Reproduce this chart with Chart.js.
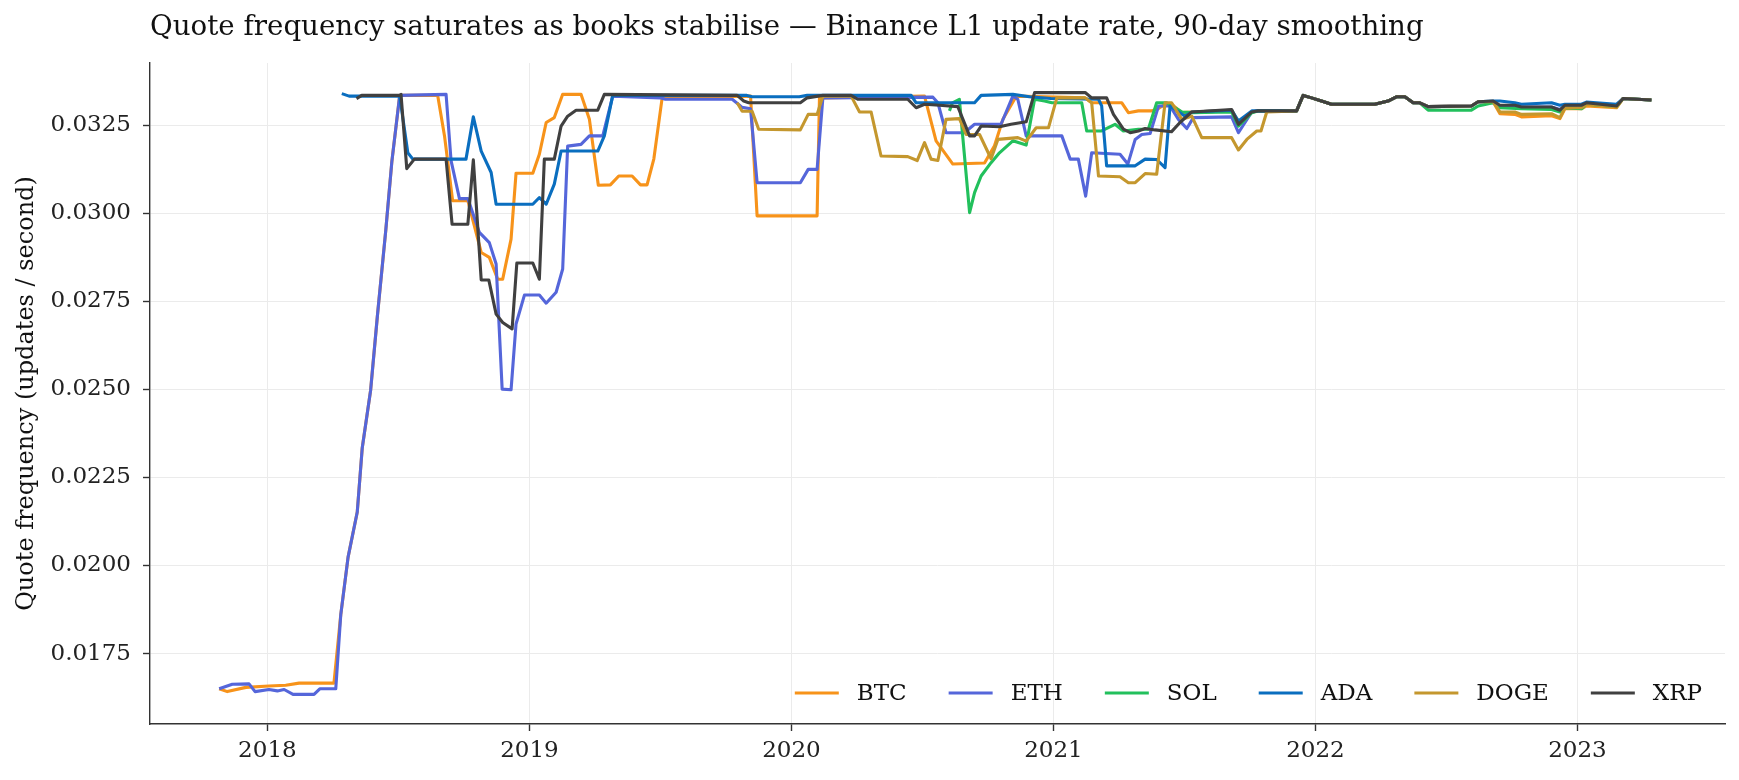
<!DOCTYPE html>
<html>
<head>
<meta charset="utf-8">
<title>Quote frequency</title>
<script src="https://cdn.jsdelivr.net/npm/chart.js@4"></script>
<style>
  body { margin: 0; background: #fff; }
  #wrap { width: 1739px; height: 780px; }
</style>
</head>
<body>
<div id="wrap"><canvas id="quoteChart"></canvas></div>
<script>
// values: [decimal year, updates / second]
const TITLE = 'Quote frequency saturates as books stabilise \u2014 Binance L1 update rate, 90-day smoothing';
const Y_TITLE = 'Quote frequency (updates / second)';
const YEAR_TICKS = [2018, 2019, 2020, 2021, 2022, 2023];
const VALUE_TICKS = [0.0175, 0.0200, 0.0225, 0.0250, 0.0275, 0.0300, 0.0325];
const NAMES = ['BTC', 'ETH', 'SOL', 'ADA', 'DOGE', 'XRP'];
const COLORS = ['#F7931A', '#5566DA', '#22C05C', '#0A6EBF', '#C4972E', '#404040'];

// stretch where every coin sits on the same line
const SHARED_2022 = [[2021.953,0.03335],[2021.985,0.03328],[2022.023,0.03319],[2022.061,0.03310],[2022.226,0.03310],
  [2022.277,0.03319],[2022.309,0.03331],[2022.341,0.03331],[2022.373,0.03314],[2022.398,0.03314],
  [2022.430,0.03303],[2022.595,0.03305],[2022.621,0.03317]];

const BTC = [[2017.816,0.01650],[2017.847,0.01642],[2017.918,0.01654],[2018.006,0.01658],[2018.070,0.01660],[2018.121,0.01666],[2018.254,0.01666],
  [2018.280,0.01860],[2018.308,0.02024],[2018.343,0.02152],[2018.362,0.02334],[2018.394,0.02498],[2018.420,0.02710],[2018.452,0.02953],[2018.475,0.03147],[2018.505,0.03335],
  [2018.650,0.03335],[2018.676,0.03220],[2018.707,0.03036],[2018.765,0.03036],[2018.816,0.02889],[2018.847,0.02875],[2018.879,0.02813],[2018.898,0.02813],
  [2018.930,0.02927],[2018.949,0.03114],[2019.013,0.03114],[2019.038,0.03168],[2019.064,0.03258],[2019.095,0.03272],[2019.127,0.03338],[2019.197,0.03338],
  [2019.229,0.03267],[2019.263,0.03080],[2019.309,0.03081],[2019.341,0.03106],[2019.392,0.03106],[2019.424,0.03081],[2019.449,0.03081],[2019.475,0.03155],
  [2019.507,0.03330],[2019.844,0.03333],[2019.869,0.02993],[2020.098,0.02993],[2020.107,0.03328],[2020.508,0.03333],[2020.552,0.03206],[2020.616,0.03140],
  [2020.737,0.03143],[2020.775,0.03192],[2020.807,0.03267],[2020.858,0.03333],[2021.120,0.03328],[2021.146,0.03314],[2021.261,0.03314],[2021.286,0.03286],
  [2021.324,0.03291],[2021.375,0.03291],[2021.401,0.03298],[2021.426,0.03310],[2021.451,0.03310],[2021.490,0.03286],[2021.528,0.03288],[2021.680,0.03293],
  [2021.706,0.03260],[2021.757,0.03288],[2021.781,0.03291],[2021.928,0.03291], ...SHARED_2022,
  [2022.678,0.03317],[2022.704,0.03283],[2022.761,0.03281],[2022.786,0.03274],[2022.901,0.03277],[2022.933,0.03269],[2022.952,0.03297],[2023.015,0.03297],
  [2023.034,0.03305],[2023.149,0.03300],[2023.174,0.03326],[2023.282,0.03322]];

const ETH = [[2017.816,0.01650],[2017.866,0.01663],[2017.930,0.01664],[2017.953,0.01642],[2018.006,0.01648],[2018.038,0.01644],[2018.064,0.01648],[2018.098,0.01634],
  [2018.178,0.01634],[2018.200,0.01650],[2018.261,0.01650],
  [2018.280,0.01860],[2018.308,0.02024],[2018.343,0.02152],[2018.362,0.02334],[2018.394,0.02498],[2018.420,0.02710],[2018.452,0.02953],[2018.475,0.03147],[2018.505,0.03335],
  [2018.682,0.03338],[2018.701,0.03150],[2018.733,0.03042],[2018.765,0.03042],[2018.809,0.02946],[2018.847,0.02917],[2018.873,0.02856],[2018.896,0.02501],
  [2018.930,0.02499],[2018.949,0.02686],[2018.981,0.02768],[2019.038,0.02768],[2019.064,0.02745],[2019.102,0.02776],[2019.127,0.02842],[2019.146,0.03191],
  [2019.197,0.03196],[2019.229,0.03220],[2019.280,0.03220],[2019.318,0.03333],[2019.500,0.03328],[2019.519,0.03324],[2019.774,0.03324],[2019.812,0.03301],
  [2019.844,0.03297],[2019.869,0.03087],[2020.034,0.03087],[2020.064,0.03125],[2020.098,0.03125],[2020.120,0.03328],[2020.540,0.03330],[2020.559,0.03314],
  [2020.590,0.03229],[2020.660,0.03229],[2020.699,0.03253],[2020.800,0.03253],[2020.845,0.03333],[2020.864,0.03324],[2020.896,0.03220],[2021.032,0.03220],
  [2021.064,0.03154],[2021.095,0.03154],[2021.123,0.03049],[2021.146,0.03172],[2021.254,0.03168],[2021.284,0.03140],[2021.312,0.03210],[2021.337,0.03224],
  [2021.369,0.03227],[2021.401,0.03305],[2021.445,0.03305],[2021.477,0.03267],[2021.509,0.03241],[2021.534,0.03272],[2021.680,0.03274],[2021.706,0.03229],
  [2021.757,0.03288],[2021.781,0.03291],[2021.928,0.03291], ...SHARED_2022,
  [2022.678,0.03314],[2022.704,0.03305],[2022.761,0.03305],[2022.786,0.03302],[2022.901,0.03302],[2022.933,0.03295],[2022.952,0.03305],[2023.015,0.03305],
  [2023.034,0.03314],[2023.149,0.03305],[2023.174,0.03326],[2023.282,0.03322]];

const SOL = [[2020.603,0.03291],[2020.615,0.03314],[2020.641,0.03324],[2020.680,0.03002],[2020.699,0.03059],[2020.724,0.03106],[2020.762,0.03144],[2020.794,0.03172],
  [2020.845,0.03206],[2020.896,0.03194],[2020.928,0.03324],[2020.966,0.03319],[2020.994,0.03314],[2021.108,0.03314],[2021.127,0.03234],[2021.184,0.03234],
  [2021.235,0.03253],[2021.267,0.03234],[2021.324,0.03239],[2021.362,0.03239],[2021.394,0.03314],[2021.432,0.03314],[2021.490,0.03288],[2021.528,0.03286],
  [2021.680,0.03288],[2021.706,0.03248],[2021.757,0.03286],[2021.781,0.03291],[2021.928,0.03291],
  [2021.953,0.03335],[2021.985,0.03328],[2022.023,0.03319],[2022.061,0.03310],[2022.226,0.03310],[2022.277,0.03319],[2022.309,0.03331],[2022.341,0.03331],
  [2022.373,0.03314],[2022.398,0.03314],[2022.430,0.03293],[2022.595,0.03293],[2022.621,0.03305],
  [2022.678,0.03314],[2022.704,0.03300],[2022.786,0.03297],[2022.901,0.03295],[2022.933,0.03288],[2022.952,0.03300],[2023.015,0.03297],
  [2023.034,0.03310],[2023.149,0.03303],[2023.174,0.03326],[2023.282,0.03322]];

const ADA = [[2018.284,0.03340],[2018.312,0.03333],[2018.505,0.03333],[2018.536,0.03172],[2018.555,0.03154],[2018.758,0.03154],[2018.786,0.03274],[2018.816,0.03177],
  [2018.854,0.03116],[2018.873,0.03026],[2019.013,0.03026],[2019.038,0.03045],[2019.064,0.03026],[2019.095,0.03083],[2019.121,0.03177],[2019.261,0.03177],
  [2019.286,0.03220],[2019.318,0.03335],[2019.830,0.03335],[2019.850,0.03331],[2020.030,0.03331],[2020.060,0.03335],[2020.457,0.03335],[2020.476,0.03314],
  [2020.699,0.03314],[2020.724,0.03335],[2020.845,0.03338],[2020.909,0.03331],[2020.990,0.03326],[2021.172,0.03324],[2021.184,0.03305],[2021.203,0.03135],
  [2021.312,0.03135],[2021.350,0.03154],[2021.394,0.03153],[2021.426,0.03130],[2021.445,0.03305],[2021.502,0.03276],[2021.528,0.03288],[2021.680,0.03293],
  [2021.706,0.03262],[2021.757,0.03291],[2021.781,0.03291],[2021.928,0.03291], ...SHARED_2022,
  [2022.678,0.03319],[2022.704,0.03319],[2022.761,0.03314],[2022.786,0.03310],[2022.901,0.03314],[2022.933,0.03307],[2022.952,0.03310],[2023.015,0.03310],
  [2023.034,0.03316],[2023.149,0.03310],[2023.174,0.03326],[2023.282,0.03322]];

const DOGE = [[2019.793,0.03314],[2019.812,0.03290],[2019.850,0.03290],[2019.875,0.03239],[2020.034,0.03237],[2020.064,0.03281],[2020.098,0.03281],[2020.120,0.03333],
  [2020.228,0.03333],[2020.260,0.03288],[2020.304,0.03288],[2020.342,0.03163],[2020.444,0.03161],[2020.480,0.03150],[2020.508,0.03201],[2020.533,0.03154],
  [2020.559,0.03150],[2020.590,0.03267],[2020.641,0.03269],[2020.667,0.03224],[2020.718,0.03224],[2020.762,0.03155],[2020.788,0.03210],[2020.864,0.03215],
  [2020.896,0.03205],[2020.934,0.03243],[2020.981,0.03243],[2021.013,0.03328],[2021.121,0.03328],[2021.146,0.03314],[2021.172,0.03106],[2021.254,0.03104],
  [2021.286,0.03087],[2021.312,0.03087],[2021.350,0.03113],[2021.394,0.03111],[2021.426,0.03314],[2021.451,0.03314],[2021.490,0.03267],[2021.528,0.03276],
  [2021.566,0.03215],[2021.680,0.03215],[2021.706,0.03180],[2021.738,0.03210],[2021.776,0.03234],[2021.792,0.03234],[2021.814,0.03288],[2021.928,0.03291],
  ...SHARED_2022,
  [2022.678,0.03317],[2022.704,0.03288],[2022.761,0.03288],[2022.786,0.03281],[2022.901,0.03283],[2022.933,0.03272],[2022.952,0.03300],[2023.015,0.03300],
  [2023.034,0.03310],[2023.149,0.03303],[2023.174,0.03326],[2023.282,0.03322]];

const XRP = [[2018.340,0.03326],[2018.360,0.03335],[2018.505,0.03335],[2018.510,0.03338],[2018.532,0.03127],[2018.561,0.03154],[2018.682,0.03154],[2018.705,0.02969],
  [2018.765,0.02969],[2018.786,0.03152],[2018.816,0.02811],[2018.845,0.02811],[2018.873,0.02714],[2018.898,0.02690],[2018.934,0.02672],[2018.952,0.02859],
  [2019.013,0.02859],[2019.038,0.02813],[2019.057,0.03154],[2019.095,0.03154],[2019.121,0.03248],[2019.146,0.03276],[2019.178,0.03293],[2019.261,0.03293],
  [2019.286,0.03338],[2019.793,0.03335],[2019.818,0.03319],[2019.837,0.03314],[2020.034,0.03314],[2020.060,0.03328],[2020.120,0.03335],[2020.228,0.03335],
  [2020.253,0.03324],[2020.444,0.03324],[2020.476,0.03300],[2020.508,0.03310],[2020.565,0.03307],[2020.635,0.03303],[2020.680,0.03220],[2020.699,0.03220],
  [2020.724,0.03248],[2020.794,0.03246],[2020.838,0.03253],[2020.896,0.03260],[2020.928,0.03343],[2021.121,0.03343],[2021.146,0.03328],[2021.203,0.03328],
  [2021.229,0.03281],[2021.267,0.03239],[2021.293,0.03229],[2021.324,0.03234],[2021.350,0.03241],[2021.388,0.03237],[2021.451,0.03232],[2021.483,0.03258],
  [2021.528,0.03288],[2021.680,0.03295],[2021.706,0.03253],[2021.757,0.03288],[2021.781,0.03291],[2021.928,0.03291], ...SHARED_2022,
  [2022.678,0.03319],[2022.704,0.03307],[2022.761,0.03307],[2022.786,0.03302],[2022.901,0.03302],[2022.933,0.03293],[2022.952,0.03307],[2023.015,0.03307],
  [2023.034,0.03314],[2023.149,0.03305],[2023.174,0.03326],[2023.282,0.03322]];

const SERIES = [BTC, ETH, SOL, ADA, DOGE, XRP];
const FONT = "'DejaVu Serif', serif";

Chart.defaults.font.family = FONT;
Chart.defaults.color = '#222';

// title sits flush with the plot's left edge
const titlePlugin = {
  id: 'leftTitle',
  afterDraw(chart) {
    const c = chart.ctx;
    c.save();
    c.font = '27.7px ' + FONT;
    c.fillStyle = '#111';
    c.textAlign = 'left';
    c.textBaseline = 'middle';
    c.fillText(TITLE, chart.chartArea.left, 28);
    c.restore();
  }
};

// one-row legend inside the plot, bottom right, no frame
const legendPlugin = {
  id: 'innerLegend',
  afterDatasetsDraw(chart) {
    const c = chart.ctx, area = chart.chartArea;
    const lineLen = 44, gap = 18, spacing = 42;
    c.save();
    c.font = '23px ' + FONT;
    const items = chart.data.datasets.map(ds => ({ label: ds.label, color: ds.borderColor, w: c.measureText(ds.label).width }));
    const total = items.reduce((s, it) => s + lineLen + gap + it.w, 0) + spacing * (items.length - 1);
    let x = area.right - 23 - total;
    const y = area.bottom - 31;
    c.textBaseline = 'middle';
    c.textAlign = 'left';
    items.forEach(it => {
      c.strokeStyle = it.color;
      c.lineWidth = 3.2;
      c.beginPath();
      c.moveTo(x, y);
      c.lineTo(x + lineLen, y);
      c.stroke();
      c.fillStyle = '#111';
      c.fillText(it.label, x + lineLen + gap, y + 1);
      x += lineLen + gap + it.w + spacing;
    });
    c.restore();
  }
};

new Chart(document.getElementById('quoteChart'), {
  type: 'line',
  data: {
    datasets: SERIES.map((pts, i) => ({
      label: NAMES[i],
      data: pts.map(p => ({ x: p[0], y: p[1] })),
      borderColor: COLORS[i],
      backgroundColor: COLORS[i],
      borderWidth: 3.1,
      borderJoinStyle: 'round',
      pointRadius: 0,
      tension: 0,
      fill: false,
      order: SERIES.length - i
    }))
  },
  options: {
    responsive: true,
    maintainAspectRatio: false,
    animation: false,
    layout: { padding: { top: 63, right: 14, bottom: 0, left: 0 } },
    plugins: {
      legend: { display: false },
      title: { display: false },
      tooltip: { enabled: false }
    },
    scales: {
      x: {
        type: 'linear',
        min: 2017.552,
        max: 2023.563,
        afterBuildTicks: scale => { scale.ticks = YEAR_TICKS.map(v => ({ value: v })); },
        afterFit: scale => { scale.height = 56; },
        ticks: {
          autoSkip: false,
          maxRotation: 0,
          padding: 6,
          font: { size: 23 },
          color: '#222',
          callback: v => String(v)
        },
        grid: { color: '#ebebeb', lineWidth: 1, tickLength: 7, tickColor: '#333', tickWidth: 1.4 },
        border: { color: '#333', width: 1.4 }
      },
      y: {
        min: 0.01550,
        max: 0.03427,
        afterBuildTicks: scale => { scale.ticks = VALUE_TICKS.map(v => ({ value: v })); },
        afterFit: scale => { scale.width = 150; },
        ticks: {
          padding: 12,
          font: { size: 23 },
          color: '#222',
          callback: v => v.toFixed(4)
        },
        title: {
          display: true,
          text: Y_TITLE,
          font: { size: 24 },
          color: '#111',
          padding: { top: 12, bottom: 0 }
        },
        grid: { color: '#ebebeb', lineWidth: 1, tickLength: 7, tickColor: '#333', tickWidth: 1.4 },
        border: { color: '#333', width: 1.4 }
      }
    }
  },
  plugins: [titlePlugin, legendPlugin]
});
</script>
</body>
</html>
